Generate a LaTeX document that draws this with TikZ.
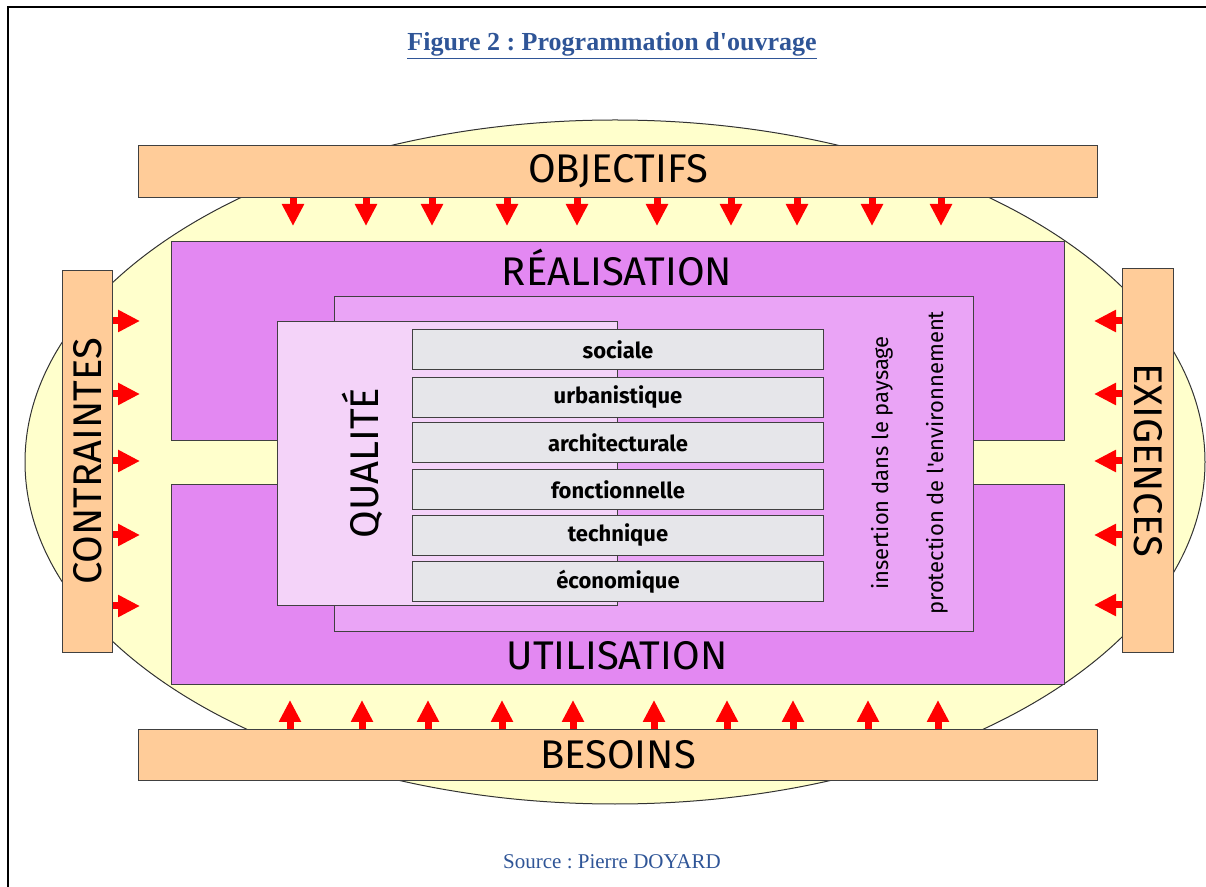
\documentclass[tikz,border=0pt]{standalone}
\usepackage{fontspec}
\setmainfont{Liberation Serif}
\newfontfamily\comicfont{Fira Sans}
\usetikzlibrary{arrows.meta}
\definecolor{peach}{HTML}{FFCC99}
\definecolor{cream}{HTML}{FFFFCC}
\definecolor{mauve}{HTML}{E388F2}
\definecolor{lilac}{HTML}{EAA4F6}
\definecolor{pinkish}{HTML}{F4D3F9}
\definecolor{rowgray}{HTML}{E6E6EA}
\definecolor{titleblue}{HTML}{2F5597}
\frenchspacing

\tikzset{
    block/.style={draw=black!75, line width=0.5pt, anchor=north west, inner sep=0pt},
    bar/.style={block, fill=peach, font=\comicfont\fontsize{20}{24}\selectfont},
    rowbox/.style={block, fill=rowgray, minimum width=205.5pt, minimum height=20pt,
        font=\comicfont\bfseries\fontsize{11}{13}\selectfont},
    bigtext/.style={font=\comicfont\fontsize{20}{24}\selectfont},
    sidetext/.style={font=\comicfont\fontsize{11}{13}\selectfont, rotate=90},
    push/.style={red, line width=3.5pt, -{Triangle[width=10.5pt,length=11pt]}},
}

\begin{document}
\begin{tikzpicture}[x=0.5pt, y=-0.5pt]
\useasboundingbox (0,0) rectangle (1206,887);
\draw[line width=1pt] (8,887) -- (8,7) -- (1206,7);

\node[font=\bfseries\fontsize{13}{15}\selectfont, text=titleblue] (title) at (612,46)
    {\underline{Figure 2 : Programmation d\textquotesingle ouvrage}};

\draw[draw=black!80, line width=0.5pt, fill=cream] (615,462) ellipse [x radius=295pt, y radius=171pt];

% bandeaux exterieurs
\node[bar, minimum width=479.5pt, minimum height=26pt] (objectifs) at (138,145) {OBJECTIFS};
\node[bar, minimum width=479.5pt, minimum height=25.5pt] (besoins) at (138,729) {BESOINS};
\node[bar, minimum width=25pt, minimum height=191pt] (contraintes) at (62,270) {};
\node[bar, minimum width=25.5pt, minimum height=192pt] (exigences) at (1122,268) {};
\node[bigtext, rotate=90] (contraintes label) at (contraintes.center) {CONTRAINTES};
\node[bigtext, rotate=-90] (exigences label) at (exigences.center) {EXIGENCES};

% blocs
\node[block, fill=mauve, minimum width=446.5pt, minimum height=99.5pt] (realisation) at (171,241) {};
\node[block, fill=mauve, minimum width=446.5pt, minimum height=100pt] (utilisation) at (171,484) {};
\node[bigtext] (realisation label) at (617,268) {RÉALISATION};
\node[bigtext] (utilisation label) at (617,656) {UTILISATION};

\node[block, fill=lilac, minimum width=319.5pt, minimum height=167.5pt] (environnement) at (334,296) {};
\node[sidetext] (paysage) at (882,463) {insertion dans le paysage};
\node[sidetext] (protection) at (937,463) {protection de l\textquotesingle environnement};

\node[block, fill=pinkish, minimum width=170pt, minimum height=142pt] (qualite) at (277,321) {};
\node[bigtext, rotate=90] (qualite label) at (362,463) {QUALITÉ};

\node[rowbox] (sociale) at (412,329) {sociale};
\node[rowbox] (urbanistique) at (412,377) {urbanistique};
\node[rowbox] (architecturale) at (412,422) {architecturale};
\node[rowbox] (fonctionnelle) at (412,469) {fonctionnelle};
\node[rowbox] (technique) at (412,515) {technique};
\node[rowbox] (economique) at (412,561) {économique};

% fleches
\foreach \dx in {155,228,294,369,439,519,593,659,734,803}
    \draw[push] (objectifs.south west) ++(\dx,0) -- ++(0,28);
\foreach \dx in {152,224,290,364,435,516,589,655,730,800}
    \draw[push] (besoins.north west) ++(\dx,0) -- ++(0,-29);
\foreach \dy in {51,124,191,265,336}
    \draw[push] (contraintes.north east) ++(0,\dy) -- ++(27,0);
\foreach \dy in {53,126,193,267,337}
    \draw[push] (exigences.north west) ++(0,\dy) -- ++(-28,0);

\node[font=\fontsize{10.5}{12}\selectfont, text=titleblue] (source) at (612,862) {Source : Pierre DOYARD};
\end{tikzpicture}
\end{document}
